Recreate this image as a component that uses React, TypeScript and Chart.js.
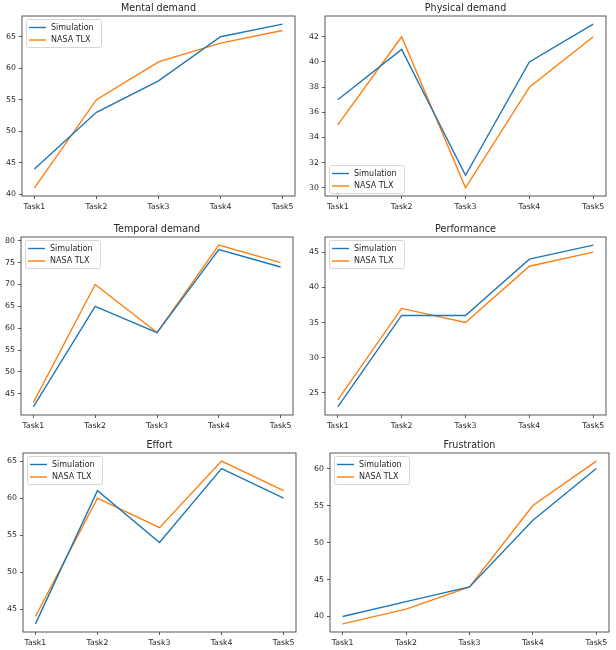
import React, { useEffect, useRef } from "react";
import { Chart, registerables } from "chart.js";

Chart.register(...registerables);

const taskLabels = ["Task1", "Task2", "Task3", "Task4", "Task5"];
const seriesNames = ["Simulation", "NASA TLX"];
const titles = ["Mental demand", "Physical demand", "Temporal demand", "Performance", "Effort", "Frustration"];

const simulation = [
  [44, 53, 58, 65, 67],
  [37, 41, 31, 40, 43],
  [42, 65, 59, 78, 74],
  [23, 36, 36, 44, 46],
  [43, 61, 54, 64, 60],
  [40, 42, 44, 53, 60],
];

const nasaTlx = [
  [41, 55, 61, 64, 66],
  [35, 42, 30, 38, 42],
  [43, 70, 59, 79, 75],
  [24, 37, 35, 43, 45],
  [44, 60, 56, 65, 61],
  [39, 41, 44, 55, 61],
];

const yTicks = [
  [40, 45, 50, 55, 60, 65],
  [30, 32, 34, 36, 38, 40, 42],
  [45, 50, 55, 60, 65, 70, 75, 80],
  [25, 30, 35, 40, 45],
  [45, 50, 55, 60, 65],
  [40, 45, 50, 55, 60],
];

// plot-area boxes in page pixels, and legend placement
const panels = [
  { L: 22, R: 295, T: 16, B: 196, legend: "upper" },
  { L: 325, R: 606, T: 16, B: 196, legend: "lower" },
  { L: 21, R: 293, T: 237, B: 415, legend: "upper" },
  { L: 325, R: 606, T: 237, B: 415, legend: "upper" },
  { L: 23, R: 296, T: 453, B: 632, legend: "upper" },
  { L: 330, R: 609, T: 453, B: 632, legend: "upper" },
];

const colors = ["#1f77b4", "#ff7f0e"];
const FONT = "'DejaVu Sans', 'Liberation Sans', sans-serif";
const yW = 20;
const tH = 16;
const xH = 18;
const rPad = 12;

function Panel({ idx }: { idx: number }) {
  const ref = useRef<HTMLCanvasElement>(null);
  const p = panels[idx];
  const w = p.R - p.L + yW + rPad;
  const h = p.B - p.T + tH + xH;

  useEffect(() => {
    if (!ref.current) return;
    const all = [...simulation[idx], ...nasaTlx[idx]];
    const lo = Math.min(...all);
    const hi = Math.max(...all);
    const m = (hi - lo) * 0.05;
    const series = [simulation[idx], nasaTlx[idx]];

    const decor = {
      id: "decor",
      afterDraw(chart: any) {
        const { ctx, chartArea: a } = chart;
        ctx.save();
        // frame
        ctx.strokeStyle = "#444";
        ctx.lineWidth = 0.9;
        ctx.strokeRect(a.left, a.top, a.right - a.left, a.bottom - a.top);
        // title
        ctx.fillStyle = "#262626";
        ctx.font = `9.6px ${FONT}`;
        ctx.textAlign = "center";
        ctx.textBaseline = "middle";
        ctx.fillText(titles[idx], (a.left + a.right) / 2, a.top - 7.5);
        // legend
        const bw = 75;
        const bh = 28;
        const bx = a.left + 4;
        const by = p.legend === "upper" ? a.top + 3 : a.bottom - 3 - bh;
        ctx.beginPath();
        if ((ctx as any).roundRect) (ctx as any).roundRect(bx + 0.5, by + 0.5, bw, bh, 2);
        else ctx.rect(bx + 0.5, by + 0.5, bw, bh);
        ctx.fillStyle = "rgba(255,255,255,0.8)";
        ctx.fill();
        ctx.strokeStyle = "#cccccc";
        ctx.lineWidth = 0.8;
        ctx.stroke();
        ctx.font = `8px ${FONT}`;
        ctx.textAlign = "left";
        seriesNames.forEach((name, i) => {
          const yy = by + 8.5 + i * 12.5;
          ctx.strokeStyle = colors[i];
          ctx.lineWidth = 1.4;
          ctx.beginPath();
          ctx.moveTo(bx + 3, yy);
          ctx.lineTo(bx + 20, yy);
          ctx.stroke();
          ctx.fillStyle = "#262626";
          ctx.fillText(name, bx + 25, yy);
        });
        ctx.restore();
      },
    };

    const chart = new Chart(ref.current, {
      type: "line",
      data: {
        datasets: series.map((vals, s) => ({
          label: seriesNames[s],
          data: vals.map((y, i) => ({ x: i, y })),
          borderColor: colors[s],
          backgroundColor: colors[s],
          borderWidth: 1.4,
          pointRadius: 0,
          fill: false,
          tension: 0,
        })),
      },
      options: {
        responsive: false,
        animation: false,
        layout: { padding: { top: tH, right: rPad, left: 0, bottom: 0 } },
        plugins: {
          legend: { display: false },
          title: { display: false },
          tooltip: { enabled: false },
        },
        scales: {
          x: {
            type: "linear",
            min: -0.2,
            max: 4.2,
            afterBuildTicks: (s: any) => {
              s.ticks = taskLabels.map((_, i) => ({ value: i }));
            },
            afterFit: (s: any) => {
              s.height = xH;
            },
            ticks: {
              callback: (v: any) => taskLabels[Math.round(Number(v))],
              font: { family: FONT, size: 7.8 },
              color: "#262626",
              padding: 3,
              maxRotation: 0,
              autoSkip: false,
            },
            grid: { drawOnChartArea: false, drawTicks: true, tickLength: 3, tickColor: "#333", lineWidth: 0.8 },
            border: { display: false },
          },
          y: {
            type: "linear",
            min: lo - m,
            max: hi + m,
            afterBuildTicks: (s: any) => {
              s.ticks = yTicks[idx].map((v) => ({ value: v }));
            },
            afterFit: (s: any) => {
              s.width = yW;
            },
            ticks: {
              font: { family: FONT, size: 7.8 },
              color: "#262626",
              padding: 3,
            },
            grid: { drawOnChartArea: false, drawTicks: true, tickLength: 3, tickColor: "#333", lineWidth: 0.8 },
            border: { display: false },
          },
        },
      },
      plugins: [decor],
    } as any);
    return () => chart.destroy();
  }, [idx]);

  return (
    <canvas
      ref={ref}
      width={w}
      height={h}
      style={{ position: "absolute", left: p.L - yW, top: p.T - tH, width: w, height: h }}
    />
  );
}

export default function App() {
  return (
    <div
      style={{
        position: "absolute",
        left: 0,
        top: 0,
        width: 616,
        height: 650,
        overflow: "hidden",
        background: "#fff",
      }}
    >
      {panels.map((_, i) => (
        <Panel key={i} idx={i} />
      ))}
    </div>
  );
}
